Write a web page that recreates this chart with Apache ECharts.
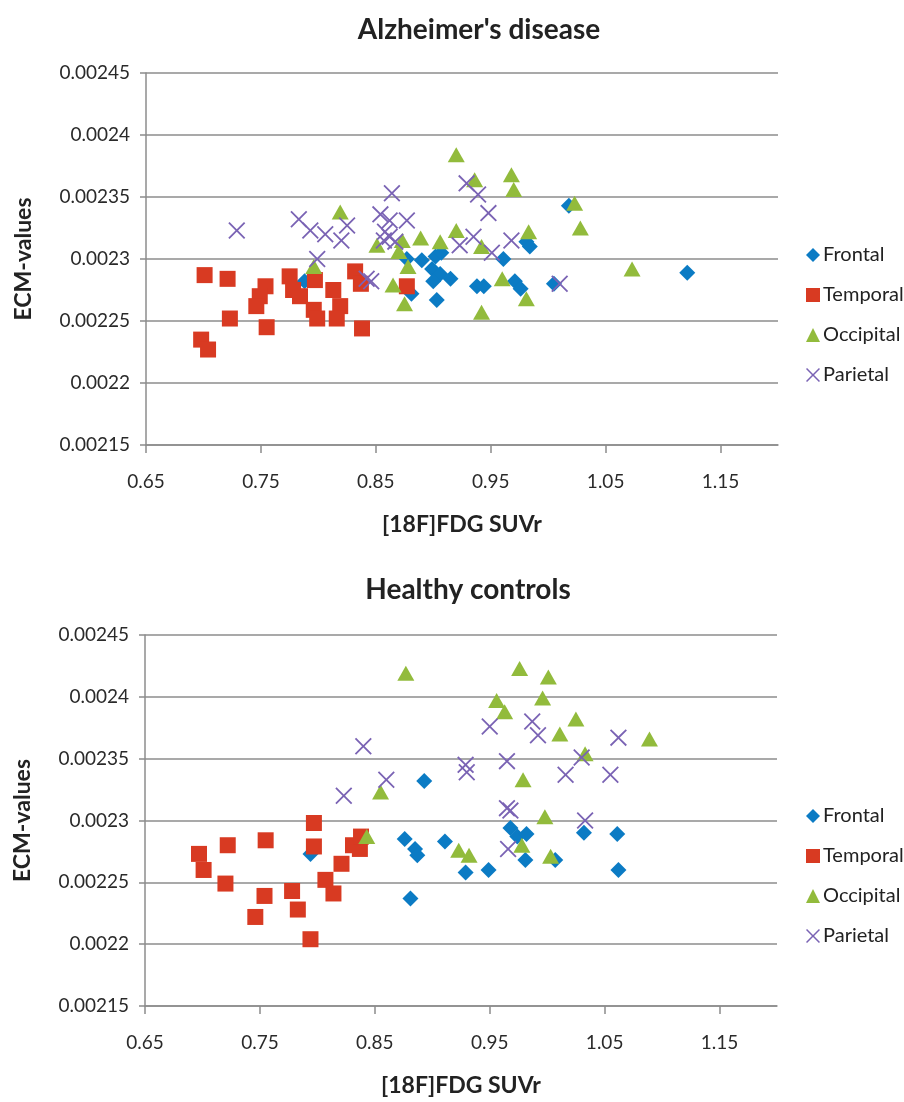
<!DOCTYPE html>
<html>
<head>
<meta charset="utf-8">
<script src="https://cdn.jsdelivr.net/npm/echarts@6/dist/echarts.min.js"></script>
<style>html,body{margin:0;padding:0;background:#fff;}#c{width:904px;height:1102px;}</style>
</head>
<body>
<div id="c"></div>
<script>
// ---------- data ----------
const seriesNames = ['Frontal', 'Temporal', 'Occipital', 'Parietal'];
const panelTitles = ["Alzheimer's disease", 'Healthy controls'];
const xTicks = [0.65, 0.75, 0.85, 0.95, 1.05, 1.15];
const yTicks = [0.00215, 0.0022, 0.00225, 0.0023, 0.00235, 0.0024, 0.00245];

// Alzheimer's disease
const adFrontal = [
  [1.018,0.002343],[0.981,0.002314],[0.984,0.002310],[0.961,0.002300],[0.877,0.002300],
  [0.890,0.002299],[0.902,0.002302],[0.907,0.002305],[0.899,0.002292],[0.906,0.002288],
  [0.915,0.002284],[0.900,0.002282],[0.881,0.002272],[0.903,0.002267],[0.938,0.002278],
  [0.944,0.002278],[0.971,0.002282],[0.976,0.002276],[1.005,0.002280],[1.121,0.002289],
  [0.788,0.002282]
];
const adTemporal = [
  [0.701,0.002287],[0.721,0.002284],[0.723,0.002252],[0.698,0.002235],[0.704,0.002227],
  [0.754,0.002278],[0.749,0.002270],[0.746,0.002262],[0.755,0.002245],[0.775,0.002286],
  [0.778,0.002275],[0.784,0.002270],[0.797,0.002283],[0.796,0.002259],[0.799,0.002252],
  [0.813,0.002275],[0.819,0.002262],[0.816,0.002252],[0.832,0.002290],[0.837,0.002280],
  [0.838,0.002244],[0.877,0.002278]
];
const adOccipital = [
  [0.920,0.002384],[0.936,0.002364],[0.968,0.002368],[0.970,0.002356],[1.023,0.002345],
  [1.028,0.002325],[0.889,0.002317],[0.906,0.002314],[0.920,0.002323],[0.983,0.002322],
  [0.851,0.002311],[0.873,0.002315],[0.870,0.002306],[0.942,0.002310],[0.878,0.002294],
  [0.865,0.002279],[0.875,0.002264],[0.960,0.002284],[0.981,0.002268],[0.942,0.002257],
  [0.819,0.002338],[0.796,0.002294],[1.073,0.002292]
];
const adParietal = [
  [0.729,0.002323],[0.783,0.002332],[0.793,0.002323],[0.806,0.002320],[0.825,0.002327],
  [0.820,0.002315],[0.799,0.002300],[0.842,0.002284],[0.864,0.002353],[0.854,0.002336],
  [0.862,0.002331],[0.877,0.002331],[0.858,0.002322],[0.862,0.002318],[0.867,0.002314],
  [0.857,0.002315],[0.846,0.002282],[0.929,0.002361],[0.939,0.002352],[0.948,0.002337],
  [0.923,0.002311],[0.935,0.002318],[0.951,0.002305],[0.968,0.002315],[1.010,0.002280]
];

// Healthy controls
const hcFrontal = [
  [0.893,0.002332],[0.876,0.002285],[0.885,0.002277],[0.887,0.002272],[0.881,0.002237],
  [0.911,0.002283],[0.929,0.002258],[0.949,0.002260],[0.968,0.002294],[0.974,0.002287],
  [0.982,0.002289],[0.981,0.002268],[1.007,0.002268],[1.032,0.002290],[1.061,0.002289],
  [1.062,0.002260],[0.794,0.002273]
];
const hcTemporal = [
  [0.697,0.002273],[0.701,0.002260],[0.722,0.002280],[0.720,0.002249],[0.755,0.002284],
  [0.754,0.002239],[0.746,0.002222],[0.778,0.002243],[0.783,0.002228],[0.794,0.002204],
  [0.797,0.002298],[0.797,0.002279],[0.807,0.002252],[0.814,0.002241],[0.821,0.002265],
  [0.831,0.002280],[0.837,0.002277],[0.838,0.002287]
];
const hcOccipital = [
  [0.877,0.002419],[0.976,0.002423],[1.001,0.002416],[0.956,0.002397],[0.963,0.002388],
  [0.996,0.002399],[1.011,0.002370],[1.025,0.002382],[1.033,0.002354],[0.979,0.002333],
  [0.855,0.002323],[0.998,0.002303],[0.843,0.002287],[0.923,0.002276],[0.932,0.002272],
  [0.978,0.002280],[1.003,0.002271],[1.089,0.002366]
];
const hcParietal = [
  [0.840,0.002360],[0.823,0.002320],[0.860,0.002333],[0.950,0.002376],[0.987,0.002380],
  [0.992,0.002369],[0.929,0.002345],[0.930,0.002339],[0.965,0.002348],[1.016,0.002337],
  [1.030,0.002351],[0.965,0.002310],[0.968,0.002308],[0.966,0.002277],[1.033,0.002300],
  [1.062,0.002367],[1.055,0.002337]
];

const panels = [
  [adFrontal, adTemporal, adOccipital, adParietal],
  [hcFrontal, hcTemporal, hcOccipital, hcParietal]
];

// ---------- styling ----------
const colors = ['#0b7bc4', '#d83a22', '#92bb3c', '#7a63b4'];
const xPath = 'path://M0,1.2L1.2,0L8,6.8L14.8,0L16,1.2L9.2,8L16,14.8L14.8,16L8,9.2L1.2,16L0,14.8L6.8,8Z';
const symbols = ['diamond', 'rect', 'triangle', xPath];
const sizes = [[16,16], [16,16], [17,15], [17,17]];
const FONT = 'Lato, "Open Sans", sans-serif';
const gridColor = '#8c8c8c';

const grids = [
  {left: 146, top: 73, width: 632, height: 372},
  {left: 145, top: 635, width: 632, height: 371}
];

const chart = echarts.init(document.getElementById('c'), null, {renderer: 'canvas'});

const xAxes = [], yAxes = [], series = [], titles = [], legends = [];
const legendTops = [240, 801];
const titleTops = [11, 571];

for (let p = 0; p < 2; p++) {
  titles.push({
    text: panelTitles[p], left: p === 0 ? 474 : 463, top: titleTops[p], textAlign: 'center',
    textStyle: {fontFamily: FONT, fontSize: 28, fontWeight: 'bold', color: '#222'}
  });
  xAxes.push({
    gridIndex: p, type: 'value', min: xTicks[0], max: 1.2,
    name: '[18F]FDG SUVr', nameLocation: 'middle', nameGap: 68,
    nameTextStyle: {fontFamily: FONT, fontSize: 23, fontWeight: 'bold', color: '#222'},
    axisLine: {show: true, onZero: false, lineStyle: {color: gridColor, width: 1.5}},
    axisTick: {show: true, length: 8, lineStyle: {color: gridColor, width: 1.5}, customValues: xTicks},
    axisLabel: {customValues: xTicks, margin: 27, fontFamily: FONT, fontSize: 19, color: '#2a2a2a',
      formatter: v => v.toFixed(2)},
    splitLine: {show: false}
  });
  yAxes.push({
    gridIndex: p, type: 'value', min: yTicks[0], max: yTicks[yTicks.length - 1], interval: 0.00005,
    name: 'ECM-values', nameLocation: 'middle', nameGap: 111, nameRotate: 90,
    nameTextStyle: {fontFamily: FONT, fontSize: 23, fontWeight: 'bold', color: '#222'},
    axisLine: {show: true, onZero: false, lineStyle: {color: gridColor, width: 1.5}},
    axisTick: {show: true, length: 6, lineStyle: {color: gridColor, width: 1.5}},
    axisLabel: {margin: 16, fontFamily: FONT, fontSize: 19, color: '#2a2a2a',
      formatter: v => String(parseFloat(v.toFixed(5)))},
    splitLine: {show: true, lineStyle: {color: gridColor, width: 1.5}}
  });
  for (let s = 0; s < 4; s++) {
    series.push({
      name: seriesNames[s], type: 'scatter', xAxisIndex: p, yAxisIndex: p,
      data: panels[p][s], symbol: symbols[s], symbolSize: sizes[s],
      itemStyle: {color: colors[s], opacity: 1}, z: 2 + s
    });
  }
  legends.push({
    orient: 'vertical', left: 801, top: legendTops[p], itemWidth: 14, itemHeight: 14, itemGap: 20,
    data: seriesNames.map((n, i) => ({name: n, icon: symbols[i]})),
    textStyle: {fontFamily: FONT, fontSize: 20, color: '#222', padding: [0,0,0,-2]},
    selectedMode: false
  });
}

chart.setOption({
  animation: false,
  backgroundColor: '#fff',
  color: colors,
  title: titles,
  legend: legends,
  grid: grids,
  xAxis: xAxes,
  yAxis: yAxes,
  series: series
});
</script>
</body>
</html>
